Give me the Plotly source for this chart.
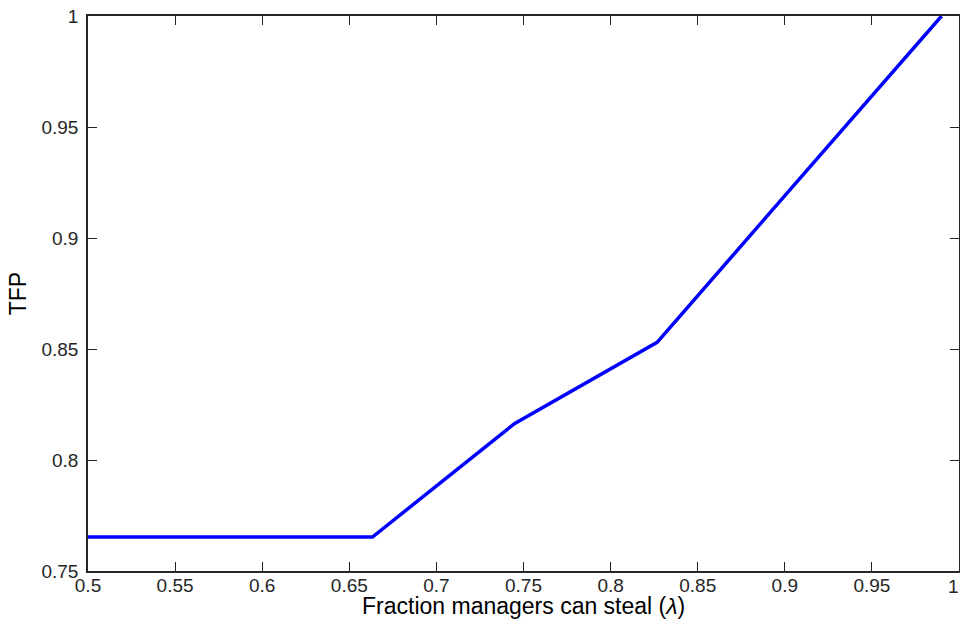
import plotly.graph_objects as go

lam = [0.5, 0.5817, 0.6633, 0.745, 0.8267, 0.9083, 0.99]
tfp = [0.7653, 0.7653, 0.7653, 0.8165, 0.853, 0.9265, 1.0]

x_ticks = [0.5, 0.55, 0.6, 0.65, 0.7, 0.75, 0.8, 0.85, 0.9, 0.95, 1.0]
x_tick_labels = ["0.5", "0.55", "0.6", "0.65", "0.7", "0.75", "0.8", "0.85", "0.9", "0.95", "1"]
y_ticks = [0.75, 0.8, 0.85, 0.9, 0.95, 1.0]
y_tick_labels = ["0.75", "0.8", "0.85", "0.9", "0.95", "1"]
x_title = "Fraction managers can steal (<i>λ</i>)"
y_title = "TFP"

FONT = "Liberation Sans, Arial, Helvetica, sans-serif"
TICK_FONT = dict(family=FONT, size=19, color="#262626")
TITLE_FONT = dict(family=FONT, size=23, color="#000000")

fig = go.Figure()
fig.add_trace(go.Scatter(x=lam, y=tfp, mode="lines",
                         line=dict(color="#0000ff", width=3.5), showlegend=False))

axis_common = dict(
    showline=True, linecolor="#262626", linewidth=1.5, mirror="ticks",
    ticks="inside", ticklen=9, tickwidth=1.2, tickcolor="#262626",
    showgrid=False, zeroline=False, automargin=False,
    ticklabeloverflow="allow", tickfont=TICK_FONT,
)

# last x tick label sits flush against the right edge (as in the reference)
x_text_main = x_tick_labels[:-1] + [""]

fig.update_layout(
    width=960, height=626,
    margin=dict(l=88, r=1, t=16, b=55),
    plot_bgcolor="white", paper_bgcolor="white",
    xaxis=dict(range=[0.5, 1.0], tickvals=x_ticks, ticktext=x_text_main,
               ticklabelstandoff=-4, **axis_common),
    yaxis=dict(range=[0.75, 1.0], tickvals=y_ticks, ticktext=y_tick_labels,
               ticklabelstandoff=4,
               title=dict(text=y_title, standoff=8, font=TITLE_FONT),
               **axis_common),
)

fig.add_annotation(x=x_ticks[-1], y=0, xref="x", yref="paper",
                   text=x_tick_labels[-1], showarrow=False,
                   xanchor="right", yanchor="top", xshift=2, yshift=-3,
                   font=TICK_FONT)
fig.add_annotation(x=0.5, y=0, xref="paper", yref="paper",
                   text=x_title, showarrow=False,
                   xanchor="center", yanchor="top", yshift=-20,
                   font=TITLE_FONT)

fig.write_html("out.html",
               config={"displayModeBar": False},
               post_script="document.body.style.margin='0';document.body.style.overflow='hidden';")
